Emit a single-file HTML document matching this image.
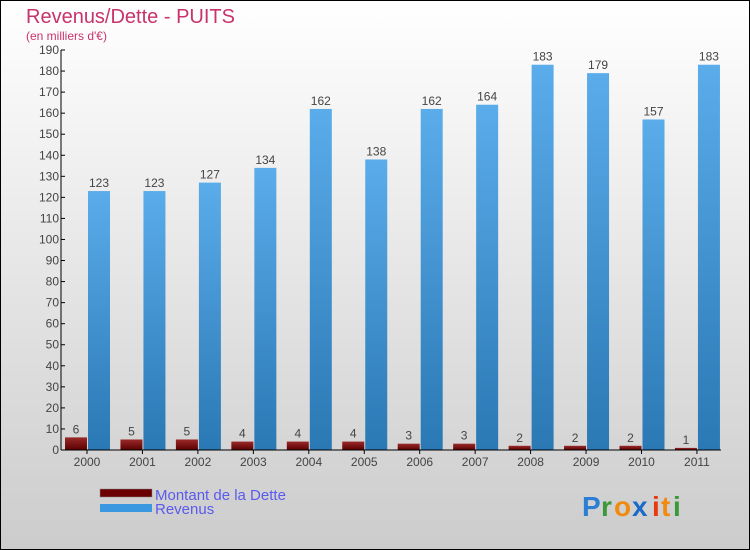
<!DOCTYPE html>
<html><head><meta charset="utf-8"><style>
body{margin:0;width:750px;height:550px;overflow:hidden}
svg{display:block}
text{font-family:"Liberation Sans",sans-serif}
</style></head><body>
<svg id="chart" width="750" height="550">
<defs>
<linearGradient id="bg" x1="0" y1="0" x2="0" y2="1"><stop offset="0" stop-color="#ffffff"/><stop offset="1" stop-color="#cccccc"/></linearGradient>
<linearGradient id="rev" x1="0" y1="0" x2="0" y2="1"><stop offset="0" stop-color="#5aacea"/><stop offset="1" stop-color="#2a78b4"/></linearGradient>
<linearGradient id="debt" x1="0" y1="0" x2="0" y2="1"><stop offset="0" stop-color="#9a2a2a"/><stop offset="1" stop-color="#5a0000"/></linearGradient>
</defs>
<rect x="0.5" y="0.5" width="749" height="549" fill="url(#bg)" stroke="#000"/>
<text x="26" y="23" font-size="20" fill="#c8336b">Revenus/Dette - PUITS</text>
<text x="26" y="40" font-size="12" fill="#c8336b">(en milliers d'€)</text>
<g id="plot"></g>
<rect x="100" y="489" width="52" height="8" fill="#6a0000" stroke="#888" stroke-width="0.5"/>
<text x="155" y="500" font-size="15" fill="#5a5aee">Montant de la Dette</text>
<rect x="100" y="504" width="52" height="8" fill="#3a98e0"/>
<text x="155" y="514" font-size="15" fill="#5a5aee">Revenus</text>
<g font-size="28" font-weight="bold">
<text x="582" y="516" fill="#2a7fd4">P</text><text x="601" y="516" fill="#3a9a3a">r</text><text x="614" y="516" fill="#f08a10">o</text><text x="632" y="516" fill="#1a6ac8">x</text><text x="652" y="516" fill="#e83a10">i</text><text x="661" y="516" fill="#f08a10">t</text><text x="673" y="516" fill="#3a9a3a">i</text>
</g>
</svg>
<script>
const years=["2000","2001","2002","2003","2004","2005","2006","2007","2008","2009","2010","2011"];
const debt=[6,5,5,4,4,4,3,3,2,2,2,1];
const revenus=[123,123,127,134,162,138,162,164,183,179,157,183];
const yTicks=[0,10,20,30,40,50,60,70,80,90,100,110,120,130,140,150,160,170,180,190];
const NS="http://www.w3.org/2000/svg";
const g=document.getElementById("plot");
const y0=450,yTop=50,yMax=190,x0=87,step=55.45,axisX=61;
const yS=v=>y0-(v/yMax)*(y0-yTop);
const xS=i=>x0+i*step;
function mk(t,a,txt){const e=document.createElementNS(NS,t);for(const k in a)e.setAttribute(k,a[k]);if(txt!==undefined)e.textContent=txt;g.appendChild(e);return e;}
yTicks.forEach(v=>{
 const l=mk("line",{x1:axisX,x2:axisX+4,y1:yS(v),y2:yS(v),stroke:"#000"});
 
 
 const t=mk("text",{x:axisX-2,y:yS(v)+4,"font-size":12,fill:"#444","text-anchor":"end"},v);
 
 
});
years.forEach((yr,i)=>{
 const cx=xS(i);
 const db=mk("rect",{x:cx-22,y:yS(debt[i]),width:22,height:y0-yS(debt[i]),fill:"url(#debt)"});
 
 
 const dl=mk("text",{x:cx-11,y:yS(debt[i])-4,"font-size":12,fill:"#444","text-anchor":"middle"},debt[i]);
 
 
 const rb=mk("rect",{x:cx+1,y:yS(revenus[i]),width:22,height:y0-yS(revenus[i]),fill:"url(#rev)"});
 
 
 const rl=mk("text",{x:cx+12,y:yS(revenus[i])-4,"font-size":12,fill:"#444","text-anchor":"middle"},revenus[i]);
 
 
 const tk=mk("line",{x1:cx,x2:cx,y1:y0,y2:y0+4,stroke:"#000"});
 
 
 const xl=mk("text",{x:cx,y:y0+16,"font-size":12,fill:"#444","text-anchor":"middle"},yr);
 
 
});
const ya=mk("line",{x1:axisX,x2:axisX,y1:yTop,y2:y0,stroke:"#000"});


const xa=mk("line",{x1:axisX,x2:721,y1:y0,y2:y0,stroke:"#000"});


</script>
</body></html>
